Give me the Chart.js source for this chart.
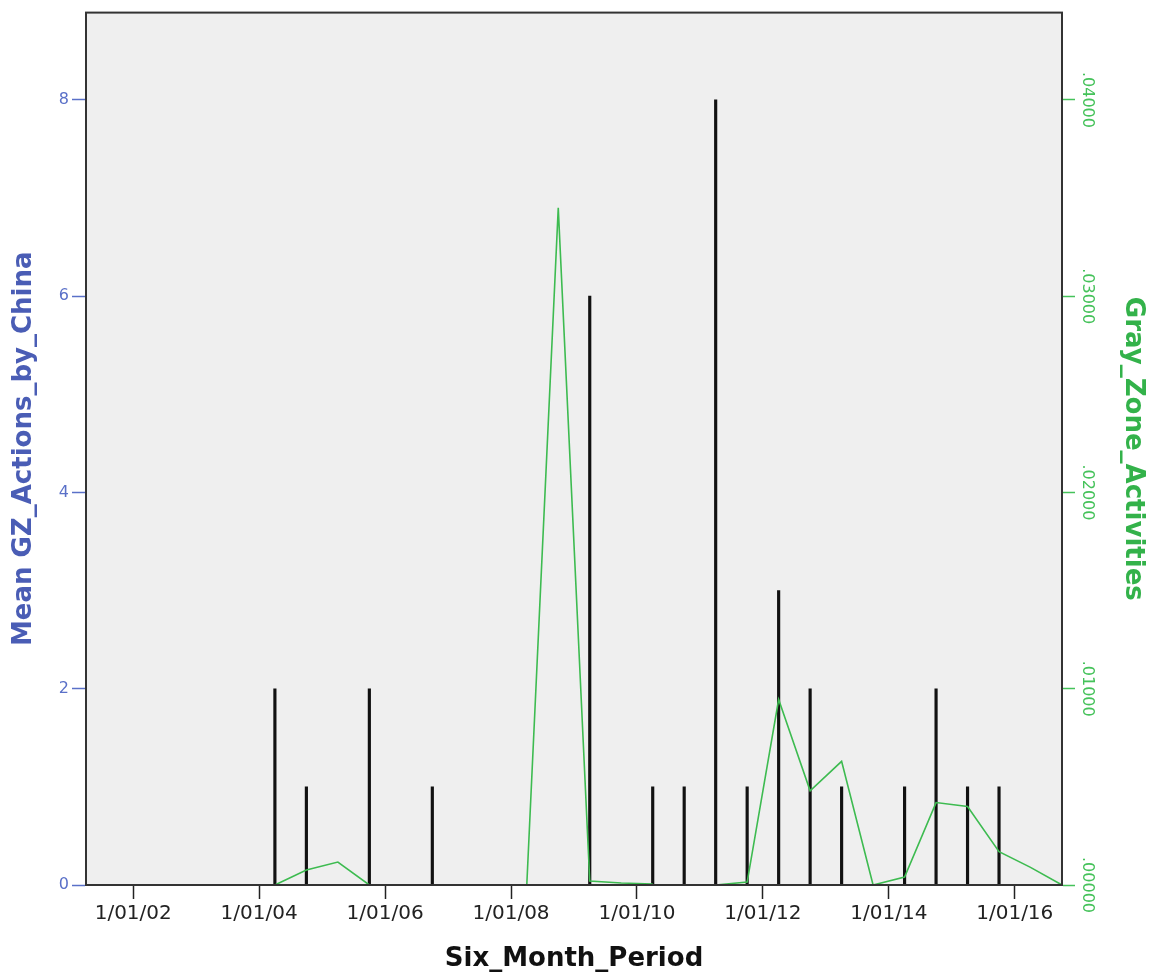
<!DOCTYPE html>
<html>
<head>
<meta charset="utf-8">
<script src="https://cdn.jsdelivr.net/npm/chart.js@4"></script>
<style>
  html, body { margin: 0; padding: 0; background: #fff; }
  #wrap { width: 1156px; height: 978px; position: relative; }
</style>
</head>
<body>
<div id="wrap"><canvas id="chart"></canvas></div>
<script>
// Mean GZ actions by China, per six month period (black spikes, left axis)
const actionDates = ['1/04/04', '1/10/04', '1/10/05', '1/10/06', '1/04/09', '1/04/10', '1/10/10', '1/04/11',
  '1/10/11', '1/04/12', '1/10/12', '1/04/13', '1/04/14', '1/10/14', '1/04/15', '1/10/15'];
const actionMeans = [2, 1, 2, 1, 6, 1, 1, 8, 1, 3, 2, 1, 1, 2, 1, 1];

// Gray zone activities (green line, right axis); null = no value for that period
const grayDates = ['1/04/04', '1/10/04', '1/04/05', '1/10/05', '1/04/06', '1/10/06', '1/04/07', '1/10/07',
  '1/04/08', '1/10/08', '1/04/09', '1/10/09', '1/04/10', '1/10/10', '1/04/11', '1/10/11', '1/04/12',
  '1/10/12', '1/04/13', '1/10/13', '1/04/14', '1/10/14', '1/04/15', '1/10/15', '1/04/16', '1/10/16'];
const grayValues = [0, 0.00076, 0.00117, 0, null, null, null, null,
  0, 0.0345, 0.0002, 0.0001, 0.00005, null, 0, 0.00015, 0.00945,
  0.0048, 0.0063, 0, 0.0004, 0.0042, 0.0040, 0.0017, 0.0009, 0];

const xTickYears = [2002, 2004, 2006, 2008, 2010, 2012, 2014, 2016];
const leftTicks = [0, 2, 4, 6, 8];
const rightTicks = [0, 0.01, 0.02, 0.03, 0.04];

// d/mm/yy -> decimal year
function toYear(s) {
  const parts = s.split('/');
  return 2000 + Number(parts[2]) + (Number(parts[1]) - 1) / 12;
}

const blue = '#4a5db5';
const blueLight = '#5a70c8';
const green = '#33b24a';
const greenLight = '#45c25a';
const font = 'DejaVu Sans';

const plotFrame = {
  id: 'plotFrame',
  beforeDatasetsDraw(chart) {
    const { ctx, chartArea: a } = chart;
    ctx.save();
    ctx.fillStyle = '#efefef';
    ctx.fillRect(a.left, a.top, a.right - a.left, a.bottom - a.top);
    ctx.restore();
  },
  afterDraw(chart) {
    const { ctx, chartArea: a } = chart;
    ctx.save();
    ctx.strokeStyle = '#333';
    ctx.lineWidth = 2;
    ctx.strokeRect(a.left, a.top, a.right - a.left, a.bottom - a.top);
    ctx.restore();
  }
};

const ctx = document.getElementById('chart').getContext('2d');
new Chart(ctx, {
  data: {
    datasets: [{
      type: 'line',
      label: 'Gray_Zone_Activities',
      data: grayDates.map((d, i) => ({ x: toYear(d), y: grayValues[i] })),
      yAxisID: 'y1',
      borderColor: '#3dbb50',
      borderWidth: 1.6,
      pointRadius: 0,
      fill: false,
      spanGaps: false,
      order: 0
    }, {
      type: 'bar',
      label: 'Mean GZ_Actions_by_China',
      data: actionDates.map((d, i) => ({ x: toYear(d), y: actionMeans[i] })),
      yAxisID: 'y',
      backgroundColor: '#111',
      barThickness: 2.5,
      order: 1
    }]
  },
  options: {
    responsive: true,
    maintainAspectRatio: false,
    animation: false,
    layout: { padding: { top: 10, left: 0, right: 0, bottom: 0 } },
    plugins: { legend: { display: false }, tooltip: { enabled: false } },
    scales: {
      x: {
        type: 'linear',
        min: 2001.25,
        max: 2016.75,
        offset: false,
        afterBuildTicks: s => { s.ticks = xTickYears.map(v => ({ value: v })); },
        afterFit: s => { s.height = 93; },
        grid: { offset: false, drawOnChartArea: false, drawTicks: true, tickLength: 14, tickColor: '#222', tickWidth: 1.5 },
        border: { display: true, color: '#333', width: 2 },
        ticks: {
          color: '#222',
          font: { family: font, size: 20 },
          padding: 3,
          maxRotation: 0,
          callback: v => '1/01/' + String(v % 100).padStart(2, '0')
        },
        title: {
          display: true,
          text: 'Six_Month_Period',
          color: '#111',
          font: { family: font, size: 26, weight: 'bold' },
          padding: { top: 0, bottom: 3 }
        }
      },
      y: {
        position: 'left',
        min: 0,
        max: 8.89,
        afterBuildTicks: s => { s.ticks = leftTicks.map(v => ({ value: v })); },
        afterFit: s => { s.width = 86; },
        grid: { drawOnChartArea: false, drawTicks: true, tickLength: 14, tickColor: blueLight, tickWidth: 1.5 },
        border: { display: true, color: '#333', width: 2 },
        ticks: {
          color: blueLight,
          font: { family: font, size: 16 },
          padding: 3
        },
        title: {
          display: true,
          text: 'Mean GZ_Actions_by_China',
          color: blue,
          font: { family: font, size: 26, weight: 'bold' },
          padding: { top: 9, bottom: 0 }
        }
      },
      y1: {
        position: 'right',
        min: 0,
        max: 0.04445,
        afterBuildTicks: s => { s.ticks = rightTicks.map(v => ({ value: v })); },
        afterFit: s => { s.width = 94; },
        grid: { drawOnChartArea: false, drawTicks: true, tickLength: 13, tickColor: greenLight, tickWidth: 1.5 },
        border: { display: true, color: '#333', width: 2 },
        ticks: {
          color: greenLight,
          font: { family: font, size: 16 },
          minRotation: -90,
          maxRotation: -90,
          crossAlign: 'center',
          padding: -16,
          callback: v => v.toFixed(5).replace(/^0/, '')
        },
        title: {
          display: true,
          text: 'Gray_Zone_Activities',
          color: green,
          font: { family: font, size: 26, weight: 'bold' },
          padding: { top: 8, bottom: 0 }
        }
      }
    }
  },
  plugins: [plotFrame]
});
</script>
</body>
</html>
